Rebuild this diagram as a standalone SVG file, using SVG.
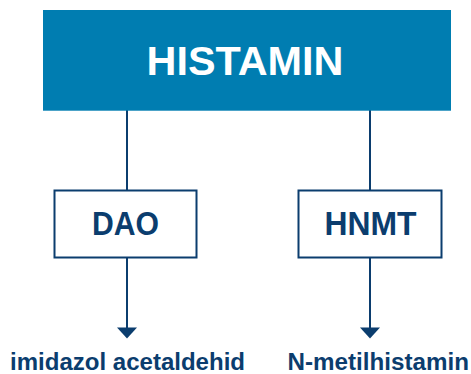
<svg xmlns="http://www.w3.org/2000/svg" width="471" height="374" viewBox="0 0 471 374">
<defs>
<style>
.lbl{font-family:"Liberation Sans",Arial,sans-serif;font-weight:bold;text-anchor:middle}
.box{fill:#ffffff;stroke:#0B3D6E;stroke-width:2}
.con{stroke:#0B3D6E;stroke-width:2;fill:none}
.dark{fill:#0B3D6E}
</style>
</defs>
<rect width="471" height="374" fill="#ffffff"/>
<g id="connectors">
<line class="con" x1="127" y1="110" x2="127" y2="190"/>
<line class="con" x1="370" y1="110" x2="370" y2="190"/>
<line class="con" x1="127" y1="258" x2="127" y2="330"/>
<line class="con" x1="370" y1="258" x2="370" y2="330"/>
<path class="dark" d="M117,327.5 L137,327.5 L127,338.5 Z"/>
<path class="dark" d="M360,327.5 L380,327.5 L370,338.5 Z"/>
</g>
<g id="histamin">
<rect x="43" y="10" width="408" height="100.7" fill="#007DB1"/>
<text class="lbl" x="245" y="75" font-size="41.5" fill="#ffffff" textLength="197" lengthAdjust="spacingAndGlyphs">HISTAMIN</text>
</g>
<g id="dao">
<rect class="box" x="54.5" y="190.5" width="142" height="67"/>
<text class="lbl dark" x="125.5" y="235" font-size="32.5" textLength="67" lengthAdjust="spacingAndGlyphs">DAO</text>
</g>
<g id="hnmt">
<rect class="box" x="298.5" y="190.5" width="143" height="67"/>
<text class="lbl dark" x="370.5" y="235" font-size="32.5" textLength="92" lengthAdjust="spacingAndGlyphs">HNMT</text>
</g>
<g id="imidazol">
<text class="lbl dark" x="127.5" y="369.5" font-size="23.5" textLength="235" lengthAdjust="spacingAndGlyphs">imidazol acetaldehid</text>
</g>
<g id="nmetil">
<text class="lbl dark" x="378.2" y="369.5" font-size="23.5" textLength="181.5" lengthAdjust="spacingAndGlyphs">N-metilhistamin</text>
</g>
</svg>
